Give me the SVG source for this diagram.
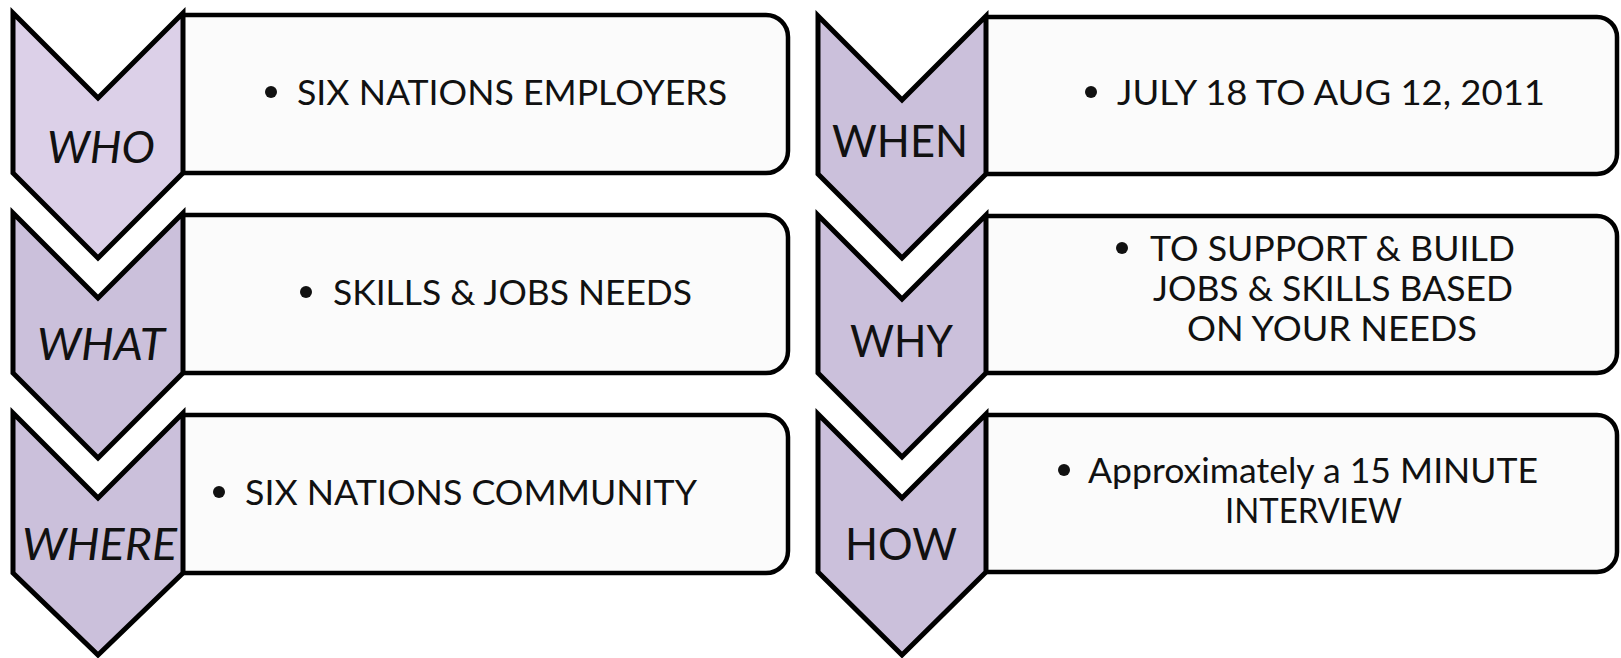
<svg xmlns="http://www.w3.org/2000/svg" width="1621" height="658" viewBox="0 0 1621 658">
<style>
.bg{fill:#ffffff}
.box{fill:#fbfbfb;stroke:#000;stroke-width:4.5}
.chev{fill:#cbc0db;stroke:#000;stroke-width:5;stroke-linejoin:miter}
.chev1{fill:#dcd0e8}
.lbl{font-family:Lato,"Open Sans",sans-serif;font-size:45px;fill:#111}
.it{font-style:italic}
.txt{font-family:Lato,"Open Sans",sans-serif;font-size:34px;fill:#111}
.bul{fill:#111}
</style>
<rect class="bg" x="0" y="0" width="1621" height="658"/>
<g id="connectors"/>
<g id="who">
<path class="box" d="M183,15 H766 A22,22 0 0 1 788,37 V151 A22,22 0 0 1 766,173 H183"/>
<path class="chev chev1" d="M13,13 L98,98 L183,13 V173 L98,258 L13,173 Z"/>
<text class="lbl it" x="47" y="163" textLength="108" lengthAdjust="spacingAndGlyphs">WHO</text>
<circle class="bul" cx="271" cy="92" r="6"/>
<text class="txt" x="297" y="105" textLength="430" lengthAdjust="spacingAndGlyphs">SIX NATIONS EMPLOYERS</text>
</g>
<g id="what">
<path class="box" d="M183,215 H766 A22,22 0 0 1 788,237 V351 A22,22 0 0 1 766,373 H183"/>
<path class="chev" d="M13,213 L98,298 L183,213 V373 L98,458 L13,373 Z"/>
<text class="lbl it" x="37" y="360" textLength="128" lengthAdjust="spacingAndGlyphs">WHAT</text>
<circle class="bul" cx="306" cy="292" r="6"/>
<text class="txt" x="333" y="305" textLength="359" lengthAdjust="spacingAndGlyphs">SKILLS &amp; JOBS NEEDS</text>
</g>
<g id="where">
<path class="box" d="M183,415 H766 A22,22 0 0 1 788,437 V551 A22,22 0 0 1 766,573 H183"/>
<path class="chev" d="M13,413 L98,498 L183,413 V573 L98,655 L13,573 Z"/>
<text class="lbl it" x="22" y="560" textLength="155" lengthAdjust="spacingAndGlyphs">WHERE</text>
<circle class="bul" cx="219" cy="492" r="6"/>
<text class="txt" x="245" y="505" textLength="452" lengthAdjust="spacingAndGlyphs">SIX NATIONS COMMUNITY</text>
</g>
<g id="when">
<path class="box" d="M986,17 H1597 A20,20 0 0 1 1617,37 V154 A20,20 0 0 1 1597,174 H986"/>
<path class="chev" d="M818,16 L902,100 L986,16 V174 L902,258 L818,174 Z"/>
<text class="lbl" x="832" y="157" textLength="136" lengthAdjust="spacingAndGlyphs">WHEN</text>
<circle class="bul" cx="1091" cy="92" r="6"/>
<text class="txt" x="1117" y="105" textLength="428" lengthAdjust="spacingAndGlyphs">JULY 18 TO AUG 12, 2011</text>
</g>
<g id="why">
<path class="box" d="M986,216 H1597 A20,20 0 0 1 1617,236 V353 A20,20 0 0 1 1597,373 H986"/>
<path class="chev" d="M818,215 L902,299 L986,215 V373 L902,457 L818,373 Z"/>
<text class="lbl" x="850" y="357" textLength="103" lengthAdjust="spacingAndGlyphs">WHY</text>
<circle class="bul" cx="1122" cy="248" r="6"/>
<text class="txt" x="1150" y="261" textLength="365" lengthAdjust="spacingAndGlyphs">TO SUPPORT &amp; BUILD</text>
<text class="txt" x="1153" y="301" textLength="360" lengthAdjust="spacingAndGlyphs">JOBS &amp; SKILLS BASED</text>
<text class="txt" x="1187" y="341" textLength="290" lengthAdjust="spacingAndGlyphs">ON YOUR NEEDS</text>
</g>
<g id="how">
<path class="box" d="M986,415 H1597 A20,20 0 0 1 1617,435 V552 A20,20 0 0 1 1597,572 H986"/>
<path class="chev" d="M818,414 L902,498 L986,414 V572 L902,655 L818,572 Z"/>
<text class="lbl" x="845" y="560" textLength="112" lengthAdjust="spacingAndGlyphs">HOW</text>
<circle class="bul" cx="1064" cy="470" r="6"/>
<text class="txt" x="1088" y="483" textLength="450" lengthAdjust="spacingAndGlyphs">Approximately a 15 MINUTE</text>
<text class="txt" x="1225" y="523" textLength="177" lengthAdjust="spacingAndGlyphs">INTERVIEW</text>
</g>
</svg>
